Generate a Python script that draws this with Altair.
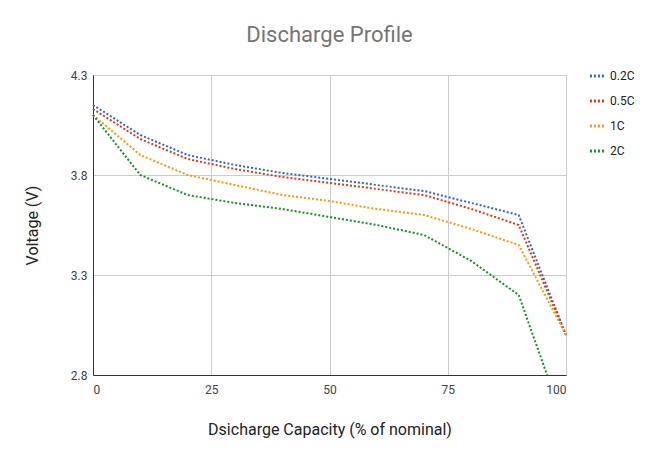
import altair as alt
import pandas as pd

series = ["0.2C", "0.5C", "1C", "2C"]
colors = ["#3366cc", "#dc3912", "#ff9900", "#109618"]

cap_a = [0, 10, 20, 30, 40, 50, 60, 70, 80, 90, 100]
v_02 = [4.15, 4.00, 3.90, 3.85, 3.81, 3.78, 3.75, 3.72, 3.66, 3.60, 3.00]
v_05 = [4.13, 3.98, 3.88, 3.83, 3.79, 3.76, 3.73, 3.70, 3.63, 3.55, 3.00]
v_1 = [4.10, 3.90, 3.80, 3.75, 3.70, 3.67, 3.63, 3.60, 3.53, 3.45, 3.00]
cap_2 = [0, 10, 20, 30, 40, 50, 60, 70, 80, 90, 96]
v_2 = [4.10, 3.80, 3.70, 3.66, 3.63, 3.59, 3.55, 3.50, 3.37, 3.20, 2.80]

rows = []
for name, caps, vals in [("0.2C", cap_a, v_02), ("0.5C", cap_a, v_05),
                         ("1C", cap_a, v_1), ("2C", cap_2, v_2)]:
    for c, v in zip(caps, vals):
        rows.append({"capacity": c, "voltage": v, "series": name})
df = pd.DataFrame(rows)

chart = alt.Chart(df).mark_line(strokeDash=[2, 2], strokeWidth=2).encode(
    x=alt.X("capacity:Q", title="Dsicharge Capacity (% of nominal)",
            scale=alt.Scale(domain=[0, 100]),
            axis=alt.Axis(values=[0, 25, 50, 75, 100], labelPadding=9, titlePadding=26)),
    y=alt.Y("voltage:Q", title="Voltage (V)",
            scale=alt.Scale(domain=[2.8, 4.3], zero=False),
            axis=alt.Axis(values=[2.8, 3.3, 3.8, 4.3], format=".1f", titlePadding=30)),
    color=alt.Color("series:N", title=None, sort=series,
                    scale=alt.Scale(domain=series, range=colors),
                    legend=alt.Legend(orient="none", legendX=495, legendY=-8,
                                      symbolType="stroke", symbolStrokeWidth=3,
                                      symbolDash=[2, 2], symbolSize=200,
                                      labelFontSize=12, labelColor="#222",
                                      rowPadding=10)),
).properties(
    width=473, height=300,
    title=alt.Title("Discharge Profile", fontSize=22, fontWeight="normal",
                    color="#757575", offset=20),
    autosize=alt.AutoSizeParams(type="none"),
    padding={"left": 85, "top": 67, "right": 85, "bottom": 80},
).configure(font="Roboto").configure_axis(
    labelFontSize=12, labelColor="#444", titleFontSize=16, titleFontWeight="normal",
    titleColor="#222", gridColor="#cccccc", domainColor="#333", ticks=False,
    labelPadding=6,
).configure_view(stroke=None)

chart.save("out.html", embed_options={"renderer": "svg", "actions": False})
